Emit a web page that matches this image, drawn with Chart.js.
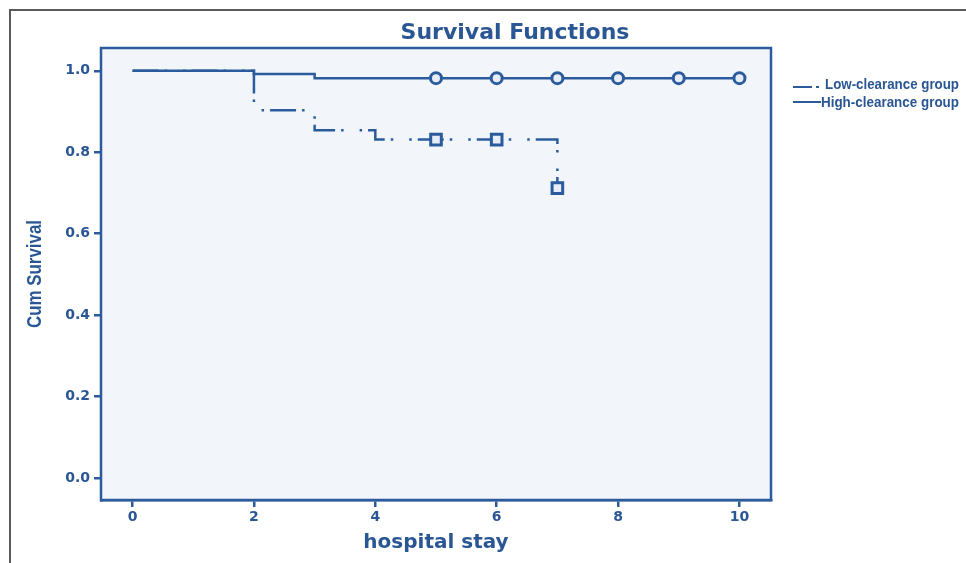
<!DOCTYPE html>
<html>
<head>
<meta charset="utf-8">
<script src="https://cdn.jsdelivr.net/npm/chart.js@4"></script>
<style>
  html, body { margin: 0; padding: 0; background: #fff; }
  #wrap { position: relative; width: 966px; height: 563px; }
  #frame { position: absolute; left: 9px; top: 9px; right: 0; bottom: 0;
           border-top: 2px solid #5a5a5a; border-left: 2px solid #5a5a5a; pointer-events: none; }
</style>
</head>
<body>
<div id="wrap">
  <canvas id="survChart" width="966" height="563"></canvas>
  <div id="frame"></div>
</div>
<script>
'use strict';

/* Data */
var highTime = [0, 2, 3, 5, 6, 7, 8, 9, 10];
var highSurv = [1.0, 0.992, 0.982, 0.982, 0.982, 0.982, 0.982, 0.982, 0.982];
var highCensored = [0, 0, 0, 1, 1, 1, 1, 1, 1];

var lowTime = [0, 2, 3, 4, 5, 6, 7];
var lowSurv = [1.0, 0.903, 0.854, 0.831, 0.831, 0.831, 0.712];
var lowCensored = [0, 0, 0, 0, 1, 1, 1];

var xTicks = [0, 2, 4, 6, 8, 10];
var yTicks = [0.0, 0.2, 0.4, 0.6, 0.8, 1.0];
var seriesNames = ['Low-clearance group', 'High-clearance group'];

var blue = '#2b5b9c';
var textBlue = '#2a5794';
var arial = '"Liberation Sans", Arial, sans-serif';
var wide = '"DejaVu Sans", Verdana, sans-serif';

function toPoints(xs, ys) {
  return xs.map(function(x, i) { return {x: x, y: ys[i]}; });
}

// draw text squeezed horizontally to a given width (narrow font look)
function fitText(ctx, text, x, y, width) {
  var w = ctx.measureText(text).width;
  ctx.save();
  ctx.translate(x, y);
  ctx.scale(width / w, 1);
  ctx.fillText(text, 0, 0);
  ctx.restore();
}

// plot background, box, title, y title and legend
var decorations = {
  id: 'decorations',
  beforeDatasetsDraw: function(chart) {
    var a = chart.chartArea, ctx = chart.ctx;
    ctx.save();
    ctx.fillStyle = '#f2f6fb';
    ctx.fillRect(a.left, a.top, a.right - a.left, a.bottom - a.top);
    ctx.restore();
  },
  afterDraw: function(chart) {
    var a = chart.chartArea, ctx = chart.ctx;
    ctx.save();
    ctx.strokeStyle = blue;
    ctx.lineWidth = 2.5;
    ctx.strokeRect(a.left, a.top, a.right - a.left, a.bottom - a.top);

    ctx.fillStyle = textBlue;
    ctx.font = 'bold 22px ' + wide;
    ctx.textAlign = 'center';
    ctx.textBaseline = 'middle';
    ctx.fillText('Survival Functions', 515, 33);

    // y axis title, rotated
    ctx.save();
    ctx.translate(35, (a.top + a.bottom) / 2);
    ctx.rotate(-Math.PI / 2);
    ctx.font = 'bold 20px ' + arial;
    ctx.textAlign = 'left';
    fitText(ctx, 'Cum Survival', -54, 0, 108);
    ctx.restore();

    // legend
    var lx = a.right + 22;
    ctx.lineWidth = 2;
    ctx.beginPath();
    ctx.moveTo(lx, 87); ctx.lineTo(lx + 19, 87);
    ctx.moveTo(lx + 23, 87); ctx.lineTo(lx + 26, 87);
    ctx.moveTo(lx, 102); ctx.lineTo(lx + 28, 102);
    ctx.stroke();
    ctx.font = 'bold 15px ' + arial;
    ctx.textAlign = 'left';
    fitText(ctx, seriesNames[0], lx + 32, 85, 134);
    fitText(ctx, seriesNames[1], lx + 28, 103, 138);
    ctx.restore();
  }
};

var ctx = document.getElementById('survChart').getContext('2d');
var myChart = new Chart(ctx, {
  type: 'line',
  data: {
    datasets: [{
      label: seriesNames[0],
      data: toPoints(lowTime, lowSurv),
      stepped: true,
      borderColor: blue,
      borderWidth: 2.5,
      borderDash: [26, 6, 2.5, 16, 2.5, 6],
      pointStyle: 'rect',
      pointRadius: function(c) { return lowCensored[c.dataIndex] ? 7.5 : 0; },
      pointBorderWidth: 3,
      pointBackgroundColor: '#e6edf6',
      pointBorderColor: blue
    }, {
      label: seriesNames[1],
      data: toPoints(highTime, highSurv),
      stepped: true,
      borderColor: blue,
      borderWidth: 2.5,
      pointStyle: 'circle',
      pointRadius: function(c) { return highCensored[c.dataIndex] ? 5.5 : 0; },
      pointBorderWidth: 3,
      pointBackgroundColor: '#e6edf6',
      pointBorderColor: blue
    }]
  },
  options: {
    responsive: false,
    animation: false,
    layout: { padding: { top: 48, right: 195, left: 0, bottom: 0 } },
    plugins: { legend: { display: false }, title: { display: false }, tooltip: { enabled: false } },
    scales: {
      x: {
        type: 'linear',
        min: -0.52,
        max: 10.52,
        afterFit: function(s) { s.height = 63; },
        afterBuildTicks: function(s) { s.ticks = xTicks.map(function(v) { return {value: v}; }); },
        grid: { drawOnChartArea: false, drawTicks: true, tickLength: 7, color: blue, lineWidth: 2.5 },
        border: { display: true, color: blue, width: 2.5 },
        ticks: { color: textBlue, padding: 2, font: { family: wide, weight: 'bold', size: 14 } },
        title: { display: true, text: 'hospital stay', color: textBlue, padding: { top: 0, bottom: 8 },
                 font: { family: wide, weight: 'bold', size: 20 } }
      },
      y: {
        min: -0.054,
        max: 1.056,
        afterFit: function(s) { s.width = 101; },
        afterBuildTicks: function(s) { s.ticks = yTicks.map(function(v) { return {value: v}; }); },
        grid: { drawOnChartArea: false, drawTicks: true, tickLength: 7, color: blue, lineWidth: 2.5 },
        border: { display: true, color: blue, width: 2.5 },
        ticks: { color: textBlue, padding: 4, font: { family: wide, weight: 'bold', size: 14 },
                 callback: function(v) { return v.toFixed(1); } }
      }
    }
  },
  plugins: [decorations]
});
</script>
</body>
</html>
